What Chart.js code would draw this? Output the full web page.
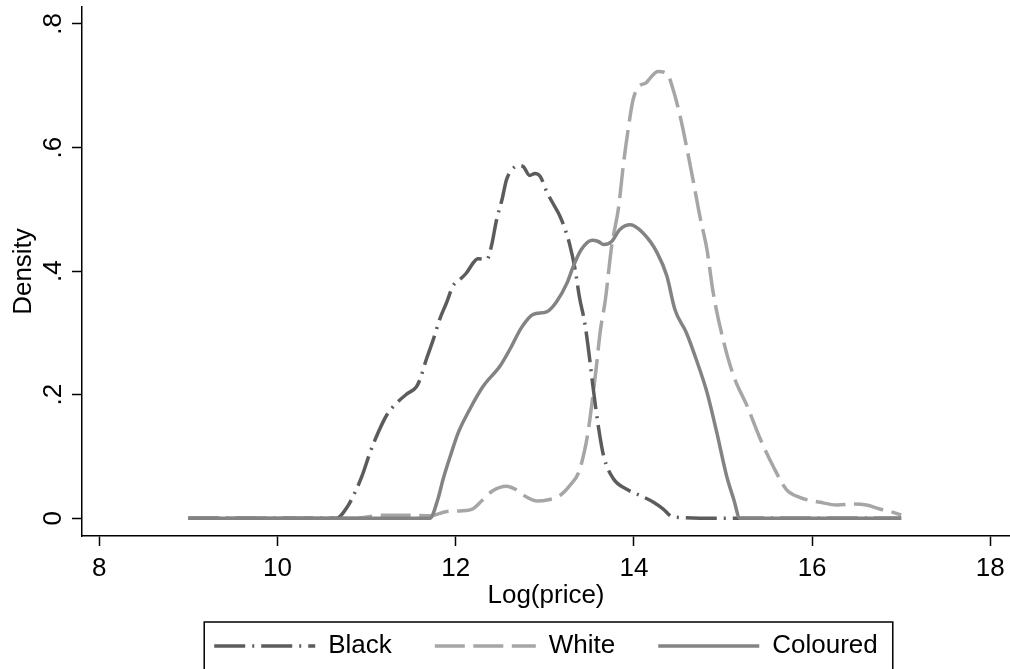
<!DOCTYPE html>
<html>
<head>
<meta charset="utf-8">
<title>Density of log price</title>
<script src="https://cdn.jsdelivr.net/npm/chart.js@4.4.1/dist/chart.umd.min.js"></script>
<style>
  html, body { margin: 0; padding: 0; background: #fff; }
  #wrap { width: 1010px; height: 669px; }
</style>
</head>
<body>
<div id="wrap"><canvas id="myChart" width="1010" height="669"></canvas></div>
<script>
'use strict';

// series names (legend order)
let seriesNames = ['Black', 'White', 'Coloured'];

// Black: log price grid and density
let blackX = [9, 10.66, 10.79, 10.87, 10.95, 11.04, 11.13, 11.23, 11.34, 11.45, 11.56, 11.60, 11.67, 11.75, 11.82, 11.90, 11.97, 12.05, 12.12, 12.20, 12.25, 12.35, 12.40, 12.46, 12.52, 12.57, 12.63, 12.70, 12.76, 12.83, 12.89, 12.95, 13.02, 13.11, 13.17, 13.23, 13.28, 13.34, 13.39, 13.45, 13.50, 13.54, 13.60, 13.66, 13.77, 13.92, 14.07, 14.22, 14.33, 14.44, 15.15, 17];
let blackY = [0, 0, 0.020, 0.042, 0.069, 0.107, 0.139, 0.168, 0.187, 0.201, 0.213, 0.225, 0.257, 0.290, 0.322, 0.350, 0.376, 0.387, 0.397, 0.414, 0.420, 0.419, 0.440, 0.484, 0.516, 0.548, 0.564, 0.571, 0.569, 0.555, 0.558, 0.553, 0.529, 0.505, 0.489, 0.467, 0.443, 0.403, 0.357, 0.315, 0.262, 0.214, 0.150, 0.101, 0.064, 0.047, 0.037, 0.026, 0.015, 0.002, 0, 0];

// White
let whiteX = [9, 10.85, 11.0, 11.15, 11.49, 11.71, 11.90, 12.05, 12.20, 12.29, 12.42, 12.57, 12.67, 12.80, 12.91, 13.04, 13.17, 13.28, 13.38, 13.45, 13.49, 13.53, 13.58, 13.62, 13.68, 13.75, 13.83, 13.88, 13.94, 13.99, 14.05, 14.14, 14.18, 14.27, 14.37, 14.44, 14.52, 14.59, 14.67, 14.74, 14.82, 14.89, 15.00, 15.12, 15.27, 15.42, 15.56, 15.71, 15.86, 16.09, 16.28, 16.46, 16.61, 16.76, 16.91, 17.0];
let whiteY = [0, 0, 0.002, 0.005, 0.005, 0.004, 0.011, 0.012, 0.016, 0.028, 0.045, 0.052, 0.047, 0.034, 0.028, 0.030, 0.037, 0.053, 0.074, 0.112, 0.144, 0.187, 0.247, 0.300, 0.354, 0.440, 0.505, 0.570, 0.634, 0.677, 0.698, 0.705, 0.712, 0.723, 0.720, 0.694, 0.650, 0.602, 0.543, 0.489, 0.435, 0.365, 0.290, 0.230, 0.182, 0.128, 0.085, 0.047, 0.034, 0.026, 0.0215, 0.023, 0.0215, 0.015, 0.0097, 0.005];

// Coloured
let colouredX = [9, 11.71, 11.80, 11.86, 11.94, 12.03, 12.16, 12.31, 12.50, 12.61, 12.74, 12.87, 13.02, 13.13, 13.25, 13.32, 13.41, 13.53, 13.60, 13.66, 13.75, 13.84, 13.96, 14.10, 14.26, 14.37, 14.46, 14.59, 14.70, 14.82, 14.93, 15.04, 15.12, 15.19, 17];
let colouredY = [0, 0, 0.031, 0.064, 0.101, 0.139, 0.177, 0.214, 0.247, 0.274, 0.309, 0.330, 0.334, 0.350, 0.381, 0.408, 0.435, 0.450, 0.448, 0.443, 0.448, 0.467, 0.475, 0.462, 0.430, 0.392, 0.338, 0.300, 0.257, 0.204, 0.139, 0.069, 0.031, 0, 0];

// axis ticks
let xTicks = [8, 10, 12, 14, 16, 18];
let yTicks = [0, 0.2, 0.4, 0.6, 0.8];
let yTickLabels = ['0', '.2', '.4', '.6', '.8'];

function toPoints(xs, ys) {
  let pts = [];
  for (let i = 0; i < xs.length; i++) {
    pts.push({x: xs[i], y: ys[i]});
  }
  return pts;
}

Chart.defaults.font.family = '"Liberation Sans", Arial, sans-serif';
Chart.defaults.font.size = 26;
Chart.defaults.color = '#000';

// box drawn round the legend, like the Stata one
const legendFrame = {
  id: 'legendFrame',
  afterDraw(chart) {
    let boxes = chart.legend && chart.legend.legendHitBoxes;
    if (!boxes || !boxes.length) return;
    let first = boxes[0];
    let last = boxes[boxes.length - 1];
    let left = first.left - 10;
    let right = last.left + last.width + 15;
    let ctx = chart.ctx;
    ctx.save();
    ctx.strokeStyle = '#000';
    ctx.lineWidth = 1.5;
    ctx.strokeRect(left, first.top - 11, right - left, 120);
    ctx.restore();
  }
};

let common = {
  borderWidth: 3.5,
  pointRadius: 0,
  fill: false,
  cubicInterpolationMode: 'monotone',
  borderCapStyle: 'butt',
  borderJoinStyle: 'round'
};

// legend samples take the line style of their dataset
function legendLabels(chart) {
  let items = Chart.defaults.plugins.legend.labels.generateLabels(chart);
  items.forEach(item => {
    let ds = chart.data.datasets[item.datasetIndex];
    item.lineDash = ds.borderDash || [];
    item.lineWidth = ds.borderWidth;
    item.strokeStyle = ds.borderColor;
    item.fontColor = '#000';
  });
  return items;
}

let ctx = document.getElementById('myChart').getContext('2d');
new Chart(ctx, {
  type: 'line',
  data: {
    datasets: [
      Object.assign({
        label: seriesNames[0],
        data: toPoints(blackX, blackY),
        borderColor: '#5c5c5c',
        backgroundColor: '#5c5c5c',
        borderDash: [31, 7, 2, 7],
        order: 1
      }, common),
      Object.assign({
        label: seriesNames[1],
        data: toPoints(whiteX, whiteY),
        borderColor: '#a6a6a6',
        backgroundColor: '#a6a6a6',
        borderDash: [30, 8.5],
        order: 2
      }, common),
      Object.assign({
        label: seriesNames[2],
        data: toPoints(colouredX, colouredY),
        borderColor: '#838383',
        backgroundColor: '#838383',
        order: 0
      }, common)
    ]
  },
  options: {
    responsive: false,
    devicePixelRatio: 1,
    animation: false,
    layout: {padding: {top: 7, right: 0, bottom: 0, left: 0}},
    plugins: {
      tooltip: {enabled: false},
      legend: {
        position: 'bottom',
        fullSize: false,
        labels: {
          usePointStyle: true,
          pointStyle: 'line',
          pointStyleWidth: 101,
          boxWidth: 101,
          padding: 43,
          color: '#000',
          font: {size: 26},
          generateLabels: legendLabels,
          sort: (a, b) => a.datasetIndex - b.datasetIndex
        }
      }
    },
    scales: {
      x: {
        type: 'linear',
        min: 7.806,
        max: 18.221,
        border: {display: true, color: '#000', width: 1.5},
        grid: {drawOnChartArea: false, drawTicks: true, tickLength: 10, tickColor: '#000', tickWidth: 1.5},
        ticks: {
          autoSkip: false,
          maxRotation: 0,
          padding: 7,
          color: '#000',
          font: {size: 26},
          callback: (value) => String(value)
        },
        afterBuildTicks: (axis) => {
          axis.ticks = xTicks.map(v => ({value: v}));
        },
        afterFit: (axis) => {
          axis.height = 54;
          axis.paddingLeft = 0;
          axis.paddingRight = 0;
        },
        title: {
          display: true,
          text: 'Log(price)',
          color: '#000',
          font: {size: 26},
          padding: {top: 0, bottom: -21}
        }
      },
      y: {
        type: 'linear',
        min: -0.0286,
        max: 0.8275,
        border: {display: true, color: '#000', width: 1.5},
        grid: {drawOnChartArea: false, drawTicks: true, tickLength: 10, tickColor: '#000', tickWidth: 1.5},
        ticks: {
          autoSkip: false,
          minRotation: 90,
          maxRotation: 90,
          crossAlign: 'center',
          padding: 7.6,
          color: '#000',
          font: {size: 26},
          callback: (value, index) => yTickLabels[index]
        },
        afterBuildTicks: (axis) => {
          axis.ticks = yTicks.map(v => ({value: v}));
        },
        afterFit: (axis) => {
          axis.width = 82;
          axis.paddingTop = 0;
          axis.paddingBottom = 0;
        },
        title: {
          display: true,
          text: 'Density',
          color: '#000',
          font: {size: 26},
          padding: {top: 8.5, bottom: 0}
        }
      }
    }
  },
  plugins: [legendFrame]
});
</script>
</body>
</html>
